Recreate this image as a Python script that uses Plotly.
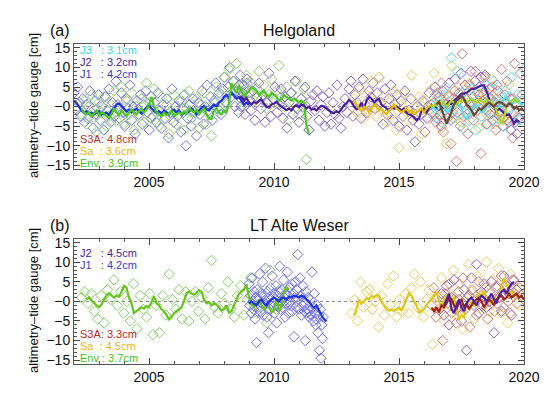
import plotly.graph_objects as go

# ---------------- data: Helgoland (panel a) ----------------
# scatter samples: start year, step, values
a_j1_t0, a_j1_dt = 2002.0, 0.07
a_j1_pts = [3.5, -0.5, 5.0, 1.0, -2.5, 2.0, -4.0, 0.5, -3.0, 4.0,
            -1.5, -5.5, 1.5, -2.0, 3.0, -3.5, 0.0, -6.0, 2.5, -1.0,
            4.5, -4.0, 1.0, -2.5, 6.5, 0.5, -3.0, 3.5, -1.5, -5.0,
            2.0, -0.5, 5.5, -3.5, 0.0, -7.0, 1.5, -2.0, 3.0, -4.5,
            0.5, 4.0, -1.5, -6.0, 2.5, -2.5, 1.0, -4.0, 3.5, -1.0,
            -5.5, 0.5, -3.0, 2.0, -8.0, -1.5, 4.5, -4.0, 0.0, -2.5,
            1.5, -6.5, -0.5, 3.0, -10.0, -3.0, 0.5, -5.0, 2.0, -1.5,
            -7.5, 1.0, -2.0, 4.0, -4.5, 0.0, 5.5, -1.0, 2.5, -3.5,
            1.5, 6.0, -0.5, 3.5, -2.0, 4.5, 7.5, 1.0, 5.0, 10.0,
            2.5, 6.5, 0.0, 4.0, -1.5, 8.0, 3.0, 5.5, 1.0, 6.0]
a_env_t0, a_env_dt = 2002.3, 0.1
a_env_pts = [-2.0, 1.5, -4.5, 0.0, 3.0, -3.0, -6.5, 1.0, -1.5, 2.5,
             -5.0, -2.5, 0.5, 4.0, -3.5, -1.0, 5.0, -4.5, 1.5, -2.0,
             3.5, -6.0, 0.0, -2.5, 2.0, -4.0, 6.0, 1.0, -3.0, 4.5,
             -1.5, -5.0, 2.5, -3.5, 0.5, -7.0, -1.0, 3.0, -4.5, -2.0,
             1.5, -6.0, -0.5, 4.0, -3.0, -1.5, 2.0, -5.5, 0.5, 3.5,
             -4.5, -2.0, -7.5, 1.0, 5.0, -1.0, 3.0, 7.5, 0.5, 9.5,
             4.0, 6.5, 11.0, 2.5, 5.5, 0.0, 8.0, 3.5, 6.0, 1.5,
             4.5, 9.0, 2.0, 5.5, -0.5, 3.0, 7.0, 1.0, 4.0, 10.5,
             2.5, 0.0, 5.0, -3.5, 3.5, 1.0, 6.5, -2.0, 2.0, 4.5,
             -13.5, -6.0]
a_j2_t0, a_j2_dt = 2008.6, 0.08
a_j2_pts = [5.5, 0.0, 3.5, -2.0, 7.0, 1.5, -1.0, 4.0, -3.5, 2.5,
            6.0, -0.5, 3.0, -4.0, 1.0, 8.5, -2.5, 2.0, 5.0, -1.5,
            0.5, 4.5, -3.0, 2.5, -5.5, 1.0, 3.5, -2.0, 6.5, -0.5,
            -4.0, 2.0, 0.0, 5.0, -2.5, -6.0, 1.5, 3.0, -1.0, 4.0,
            -3.5, 0.5, 2.5, -5.0, -1.5, 3.5, -4.5, 1.0, -2.0, 5.5,
            -3.0, -5.5, 0.0, 2.0, -1.5, 4.5, 6.5, -2.5, 3.0, 1.0,
            5.0, -3.0, 7.0, 0.5, -1.5, 4.0, 2.5, 6.0, -0.5, 3.5,
            7.5, 1.0, -4.5, 4.5, -2.0, 2.0, 5.5, -3.5, 0.5, 3.0,
            -5.0, 1.5, -2.5, 4.0, -6.0, -1.0, 2.0, -3.5, -9.0, 0.0,
            -4.5, -2.0, 1.5, -6.5, -3.0, 3.5, 0.5, -1.5, 5.0, -3.0,
            2.5, -5.0, 4.0, -1.0, 0.5, 6.0, -3.5, 2.0, 7.0, -1.5,
            3.5, 8.5, 1.0, 5.5, -2.0, 4.0, 9.0, 2.5, 6.5, 0.0,
            5.0, 7.5, 3.0, 8.0, -1.0, 4.5, 2.0, -3.5, 1.0, 5.5,
            -2.0, 0.5, -5.0, 3.0, -3.5, -1.0, -6.0, 2.0, -4.0, -7.0,
            -3.0]
a_sa_t0, a_sa_dt = 2013.2, 0.1
a_sa_pts = [2.0, -1.5, 4.5, 0.0, -3.0, 3.0, -1.0, 6.5, 1.5, -2.5,
            7.5, -0.5, 2.5, -4.0, 1.0, -2.0, 4.0, -6.0, -10.5, 0.5,
            3.5, -1.5, -3.5, 8.0, 0.0, -2.0, 2.5, -7.0, -1.0, 1.5,
            -3.0, 4.5, 8.5, -1.5, 2.0, -5.5, 0.5, -9.5, 3.0, 10.5,
            -2.5, 1.0, 5.0, -4.0, 2.5, -1.0, 6.0, -3.0, 0.5, 3.5,
            -5.5, 1.5, 4.0, -2.0, 0.0, 7.0, -4.5, 2.0, -1.5, 3.0,
            -3.5, 1.0, 5.5, -2.0, 0.5]
a_s3a_t0, a_s3a_dt = 2016.4, 0.075
a_s3a_pts = [1.0, -4.0, 3.5, -2.0, 6.0, -6.5, 0.5, -3.0, 2.5, -9.5,
             -1.5, 4.0, -14.0, 1.5, -5.0, 13.5, -2.5, 2.0, -7.0, 5.5,
             0.0, -3.5, 9.0, -1.0, 3.0, -12.0, 1.5, 7.5, -4.5, 2.5,
             -2.0, 5.0, 0.5, -6.0, 4.0, -1.5, 9.5, -3.0, 1.0, 6.5,
             -4.0, 2.0, -8.0, 11.0, 0.5, -2.5, 8.5, 3.0]
a_j3_t0, a_j3_dt = 2016.3, 0.08
a_j3_pts = [0.5, -2.5, 3.0, -1.0, 1.5, -4.0, 2.5, 5.0, -1.5, 0.0,
            12.5, -3.0, 1.0, 9.0, -2.0, 3.5, -5.5, 0.5, 2.0, -3.5,
            4.5, -1.0, -6.0, 1.5, 3.0, -2.5, 0.0, 5.5, -4.5, 2.0,
            -1.5, 6.5, 0.5, -3.0, 3.5, 1.0, -5.0, 4.0, -0.5, 2.5,
            7.5, -2.0, 0.5, 3.0, -3.5, 1.5, 9.5]

# running means (step 0.1 yr)
a_j1_line_t0 = 2002.0
a_j1_line = [1.5, 1.0, 0.0, -1.0, -1.5, -1.2, -1.8, -1.5, -2.0, -1.6,
             -1.2, -2.0, -1.8, -1.5, -2.2, -1.0, -0.5, 0.5, 0.8, 0.2,
             -0.5, -1.2, -0.8, -1.5, -1.0, -0.5, -1.2, -1.8, -1.0, -0.2,
             0.5, -0.5, -1.0, -1.6, -1.2, -1.8, -1.0, -1.5, -2.0, -1.2,
             -0.8, -1.5, -1.0, -2.2, -1.5, -1.8, -1.0, -0.5, -1.2, -2.0,
             -1.0, -0.5, 0.2, -0.6, -1.0, -0.2, 0.5, 0.0, 1.0, 1.5,
             2.5, 3.0, 2.2, 3.5, 2.8, 2.0, 2.5, 1.5, 0.5, 1.0, 0.5]
a_env_line_t0 = 2002.3
a_env_line = [-0.5, -1.5, -2.0, -1.5, -2.5, -1.8, -1.0, -2.2, -1.5, -1.8,
              -2.5, -3.0, -2.0, -0.5, -1.5, -2.2, -1.0, -1.8, -2.5, -1.5,
              -0.8, -1.5, -2.0, -1.2, -0.5, -1.5, -0.8, 0.5, 2.5, 0.0,
              -1.5, -2.0, -2.5, -1.5, -2.2, -1.8, -1.0, -2.5, -2.0, -1.5,
              -2.0, -1.2, -1.8, -0.5, -1.0, -1.5, -0.8, -2.0, -1.2, -0.5,
              -2.0, -3.0, -3.2, -1.0, -0.5, -1.5, -2.0, -1.0, -1.5, 1.0,
              6.0, 4.5, 3.5, 5.5, 4.0, 2.5, 3.5, 4.0, 5.0, 4.5,
              4.0, 3.0, 3.5, 4.0, 3.0, 2.5, 3.5, 3.0, 2.5, 1.5,
              2.0, 3.0, 2.5, 2.0, 1.5, 2.0, 1.5, 1.0, 1.5, 1.0,
              -5.0, -7.0]
a_j2_line_t0 = 2008.6
a_j2_line = [2.0, 2.5, 1.5, 2.2, 1.0, 0.5, 1.2, 0.8, 1.5, 1.7,
             0.8, 0.0, -0.3, 0.5, 0.8, 1.2, 0.5, 0.0, -0.5, -0.9,
             -0.5, -1.0, 0.0, 0.3, -0.2, 0.5, 0.3, -0.5, 0.0, -0.8,
             -0.5, -1.0, -0.3, 0.2, 0.0, -0.5, -1.0, -1.5, -1.7, -1.2,
             -1.5, -0.5, 0.3, 0.8, 1.7, 1.2, 0.0, -0.7, -0.3, 1.0,
             -0.5, 1.5, 2.5, 2.0, 1.0, 1.7, 2.0, 0.5, 0.0, -0.5,
             -0.9, -0.3, -0.5, 0.0, -0.5, -1.0, -0.5, -1.5, -2.0, -2.2,
             -2.8, -3.5, -3.0, -1.2, -0.5, -1.5, -0.5, 0.5, 0.0, -0.4,
             -0.8, 0.0, -0.4, 0.5, 1.2, 0.5, 1.5, 2.0, 2.8, 3.3,
             3.3, 3.5, 4.0, 4.5, 4.5, 4.8, 5.0, 5.4, 5.4, 4.0,
             2.0, 0.5, 0.0, -1.2, -0.5, -1.0, -1.5, -2.2, -2.0, -3.0,
             -4.4, -3.5, -4.0]
a_sa_line_t0 = 2013.2
a_sa_line = [1.5, 0.5, -0.5, -1.0, 0.0, -0.5, -1.5, -0.5, 0.5, 0.0,
             -1.0, -0.5, -1.5, -2.0, -1.0, -0.5, 0.5, -0.5, -1.0, -1.5,
             -1.0, -0.5, -1.5, -1.0, -2.0, -1.5, -1.0, -0.5, -1.5, -0.5,
             0.0, 0.5]
a_sa2_line_t0 = 2016.3
a_sa2_line = [0.5, 0.0, 1.0, 1.5, 0.5, 1.0, 0.0, 0.8, 1.5, 1.0,
              0.5, 1.5, 1.2, 2.0, 1.0, 1.5, 2.0, 1.5, 1.0, 1.8,
              1.5, 1.0, 2.0, 1.5, 1.0, 0.5, -1.0, -3.0, -4.4, -3.0,
              0.0, 1.0, 1.5, 2.0, 1.2, 1.8]
a_j3_line_t0 = 2016.3
a_j3_line = [0.0, -0.5, -1.0, -0.5, 0.5, 0.0, -1.5, -1.0, 0.0, 0.5,
             1.0, 0.5, -0.5, -2.5, -3.0, -2.0, -1.0, 0.0, 0.5, -0.5,
             -1.5, -1.0, 0.0, 1.0, 1.5, 0.5, -0.5, 0.0, 1.0, 2.0,
             2.5, 1.5, 0.5, 1.0, 2.0, 1.5, 0.5, 1.0]
a_s3a_line_t0 = 2016.5
a_s3a_line = [0.5, 1.2, -0.5, -2.5, -4.4, -3.0, -1.0, 0.5, 1.5, 2.0,
              2.8, 2.0, 0.5, 0.0, -1.0, -2.2, -1.5, -0.5, -0.8, 0.0,
              0.5, 1.0, 0.5, 0.0, 0.8, 1.2, 1.0, 0.5, 0.0, 0.8,
              0.5, -0.5, 0.0, -1.0, -0.5, -1.2]

# ---------------- data: LT Alte Weser (panel b) ----------------
b_env_t0, b_env_dt = 2002.3, 0.13
b_env_pts = [1.0, 2.5, -0.5, 2.0, -2.5, -4.5, 1.5, -5.5, 3.0, 0.5,
             5.5, -1.0, 2.5, -3.0, 0.0, -5.0, 4.5, -7.0, 1.5, -2.0,
             -4.0, 2.0, -8.5, -1.0, -8.0, 1.5, -3.5, 7.0, 0.5, -2.0,
             3.0, -4.5, 2.5, -5.0, 0.0, 2.5, -2.5, 1.0, -4.5, 3.5,
             10.5, -1.5, -3.0, 2.0, -0.5, 5.0, -2.0, -4.0, 1.5, 4.0,
             -3.5, 0.5, 6.0, -1.0, -3.0, 2.5, 0.0, -5.5, 8.0, 1.0,
             -2.0, 3.0, -0.5, 1.5]
b_j1_t0, b_j1_dt = 2009.0, 0.03
b_j1_pts = [4.5, -1.0, 1.5, -3.0, 6.0, 0.0, -2.0, 2.5, -4.5, 1.0,
            -10.5, 3.0, -1.5, 0.5, 7.0, -2.5, 2.0, -0.5, 5.0, -3.5,
            1.5, -1.0, 8.5, 0.0, -4.0, 2.5, -8.0, 1.0, -2.0, 3.5,
            -0.5, 6.5, -1.5, 2.0, -3.0, 0.5, 4.0, -5.5, 1.5, -1.0,
            2.5, 9.0, -2.0, 0.0, 3.0, -1.5, 5.5, 1.0, -4.0, 2.0,
            -0.5, 7.5, 1.5, -3.0, 3.5, 0.0, -1.0, 4.5, -2.5, 2.0,
            -9.0, 1.0, 5.0, -1.5, 3.0, 12.0, 0.5, -2.0, 6.0, 1.5,
            -3.5, -1.0, 4.0, 0.0, -2.5, -10.0, 2.5, -3.0, -2.0, 1.0,
            -4.0, -2.5, 0.5, -3.5, 7.5, -1.5, -5.0, 2.0, -3.0, -6.0,
            -4.5, -1.0, -8.0, -3.5, -12.5, -2.0, -14.5, -6.0, -9.5, -4.0]
b_sa_t0, b_sa_dt = 2013.1, 0.12
b_sa_pts = [-3.0, 0.5, -5.0, 5.0, -1.5, 2.5, 3.0, -2.0, 0.0, -6.5,
            1.5, -3.5, 4.5, -1.0, 6.5, -4.0, 0.5, -2.5, 2.0, -3.0,
            3.5, 7.0, -1.5, 5.0, -4.0, 0.5, 3.0, -11.0, 1.0, -2.0,
            6.0, -5.0, 2.0, -1.0, 8.0, -3.5, 4.5, -7.0, 0.0, 9.5,
            2.5, -4.5, 6.5, -1.5, 3.0, 10.0, -2.5, 5.5, 0.5, 8.5,
            -3.0, 4.0, -5.5, 7.0, 1.5, 3.5, -1.0]
b_s3a_t0, b_s3a_dt = 2016.3, 0.09
b_s3a_pts = [-1.0, 3.5, -4.0, 1.0, -2.5, -10.0, 2.0, -0.5, 4.5, -3.0,
             0.5, -5.5, 2.5, -1.5, 6.0, -2.0, 1.0, -6.5, 3.0, 0.0,
             -3.5, 5.0, 1.5, -1.0, 3.5, -4.5, 2.0, 0.5, -2.5, 4.0,
             1.0, 6.5, -1.5, 3.0, 0.0, -3.0, 5.5, 2.0, -0.5, 3.5,
             1.5, 0.5]
b_j2_t0, b_j2_dt = 2016.7, 0.1
b_j2_pts = [2.0, -3.5, 4.0, -6.0, 1.0, 5.5, -2.0, 0.5, -5.0, 3.0,
            -12.5, 1.5, 6.0, -1.0, 9.5, -3.0, 2.5, 4.5, -1.5, 0.0,
            5.0, -8.0, 3.5, 1.0, -2.5, 6.5, 4.0, 2.0, -3.5, 5.5,
            3.0]

b_env_line_t0 = 2002.5
b_env_line = [0.5, 1.0, 0.3, -0.5, -1.0, -1.5, -0.8, 0.5, 1.5, 2.1,
              1.5, 1.0, 1.5, 1.2, 2.5, 4.0, 3.5, 1.0, -0.5, -3.0,
              -2.5, -2.0, -1.5, -1.8, -1.2, -1.5, 0.0, 1.3, -0.5, -1.0,
              -2.0, -2.5, -3.5, -4.6, -4.0, -3.0, -2.5, -2.0, -1.5, 0.0,
              2.1, 2.5, 2.0, 1.8, 2.2, 2.9, 2.5, 0.5, -0.5, -0.2,
              -1.0, -0.5, -0.8, -1.5, -2.4, -2.0, -1.0, -2.8, -2.5, -1.0,
              0.5, 2.0, 2.5, 3.0, 4.4, 1.0, -0.5, -1.5, -0.5, 0.5,
              -1.0, -2.0, -1.0, -1.5, -2.8, -2.0, 0.5, -2.5, -1.0, 2.5,
              3.6, 3.0]
b_j1_line_t0 = 2009.0
b_j1_line = [-0.5, 0.0, -0.5, -1.0, 0.0, 0.5, -0.5, -1.0, 0.0, 0.5,
             1.0, 0.5, 0.0, 0.8, 1.0, 0.5, 1.2, 1.0, 1.5, 1.3,
             1.0, 1.5, 1.2, 0.5, 0.0, -1.0, -1.6, -1.0, -2.5, -3.6,
             -4.5, -5.1]
b_sa_line_t0 = 2013.2
b_sa_line = [-3.6, -2.0, 0.5, -0.5, 0.0, 0.9, 0.5, 1.5, 1.0, 1.7,
             1.5, 0.0, -1.0, -2.0, -2.4, -2.0, -2.5, -2.0, -1.5, -2.4,
             -1.0, 0.5, 2.1, 1.5, 0.0, -1.0, -2.8, -2.5, -2.0, -1.0,
             0.0, 0.5, 1.5, 2.5, 0.0, -1.5, 0.5, 1.5, 2.0, 0.5,
             1.0, -2.0, -4.6, -3.5, -4.0, -1.0, 0.5, -0.5, -1.0, 0.5,
             2.0, 1.5, 2.5, 0.5, 0.0, -0.5, 1.0, 0.5, 1.5, 3.5,
             6.0, 4.5, 2.0, 2.5, 1.5, 2.0, 1.0]
b_s3a_line_t0 = 2016.3
b_s3a_line = [-1.6, -2.5, -1.5, -2.8, -1.0, -1.5, -0.5, 1.0, 0.5, -1.0,
              -2.0, 0.0, 0.5, -1.5, -0.5, -2.0, -1.0, 0.0, 0.5, 1.0,
              0.0, -1.5, -0.5, 0.5, 0.0, -1.0, 0.5, 1.0, 1.5, 0.5,
              1.0, 2.0, 1.0, 1.5, 2.0, 1.0, 1.5, 0.5]
b_j2_line_t0 = 2016.8
b_j2_line = [-1.0, 0.5, 2.0, -2.0, -3.0, -1.0, 0.5, -1.5, -2.5, -0.5,
             0.5, 1.0, 0.0, -1.0, 0.5, 1.5, 1.0, 0.0, 1.0, 2.0,
             0.5, -0.5, 1.5, 2.5, 3.0, 2.0, 3.5, 4.5, 5.0]

y_tickvals = [-15, -10, -5, 0, 5, 10, 15]
y_ticktext = ["−15", "−10", "−5", "−0", "5", "10", "15"]
x_tickvals = [2005, 2010, 2015, 2020]

NB = "\u00a0"
a_labels_top = [("J3" + NB * 3 + ": 3.1cm", "#3fd6e6"), ("J2" + NB * 3 + ": 3.2cm", "#50209c"),
                ("J1" + NB * 3 + ": 4.2cm", "#3a3ad0")]
a_labels_bot = [("S3A: 4.8cm", "#b0381e"), ("Sa" + NB * 2 + ": 3.6cm", "#e8b800"),
                ("Env" + NB + ": 3.9cm", "#44c21c")]
b_labels_top = [("J2" + NB * 3 + ": 4.5cm", "#50209c"), ("J1" + NB * 3 + ": 4.2cm", "#3a3ad0")]
b_labels_bot = [("S3A: 3.3cm", "#c02818"), ("Sa" + NB * 2 + ": 4.5cm", "#e8b800"),
                ("Env" + NB + ": 3.7cm", "#44c21c")]

# ---------------- figure ----------------
MK = {"J1": "#7272ea", "J2": "#8c64c8", "Env": "#86d068", "Sa": "#f0ca58",
      "S3A": "#dc7868", "J3": "#66dcea"}

fig = go.Figure()


def times(t0, dt, n):
    return [round(t0 + i * dt, 4) for i in range(n)]


def pts(t0, dt, vals, col, ax):
    fig.add_trace(go.Scatter(
        x=times(t0, dt, len(vals)), y=vals, mode="markers",
        marker=dict(symbol="diamond-open", size=8, color=col, line=dict(width=1, color=col)),
        xaxis="x" + ax, yaxis="y" + ax, showlegend=False, hoverinfo="skip"))


def line(t0, vals, col, ax, w=2.2):
    fig.add_trace(go.Scatter(
        x=times(t0, 0.1, len(vals)), y=vals, mode="lines",
        line=dict(color=col, width=w), xaxis="x" + ax, yaxis="y" + ax,
        showlegend=False, hoverinfo="skip"))


# panel a points
pts(a_j1_t0, a_j1_dt, a_j1_pts, MK["J1"], "")
pts(a_env_t0, a_env_dt, a_env_pts, MK["Env"], "")
pts(a_j2_t0, a_j2_dt, a_j2_pts, MK["J2"], "")
pts(a_sa_t0, a_sa_dt, a_sa_pts, MK["Sa"], "")
pts(a_j3_t0, a_j3_dt, a_j3_pts, MK["J3"], "")
pts(a_s3a_t0, a_s3a_dt, a_s3a_pts, MK["S3A"], "")
# panel a lines
line(a_j1_line_t0, a_j1_line, "#1c34e4", "")
line(a_env_line_t0, a_env_line, "#4cc81c", "")
line(a_j2_line_t0, a_j2_line, "#4a1ea0", "")
line(a_sa_line_t0, a_sa_line, "#e6b80a", "")
line(a_j3_line_t0, a_j3_line, "#5cdcec", "")
line(a_sa2_line_t0, a_sa2_line, "#a8d42a", "")
line(a_s3a_line_t0, a_s3a_line, "#6a4a34", "")

# panel b points
pts(b_env_t0, b_env_dt, b_env_pts, MK["Env"], "2")
pts(b_j1_t0, b_j1_dt, b_j1_pts, MK["J1"], "2")
pts(b_sa_t0, b_sa_dt, b_sa_pts, MK["Sa"], "2")
pts(b_j2_t0, b_j2_dt, b_j2_pts, MK["J2"], "2")
pts(b_s3a_t0, b_s3a_dt, b_s3a_pts, MK["S3A"], "2")
# panel b lines
line(b_env_line_t0, b_env_line, "#66c41c", "2")
line(b_j1_line_t0, b_j1_line, "#1c34e4", "2")
line(b_sa_line_t0, b_sa_line, "#dcc818", "2")
line(b_s3a_line_t0, b_s3a_line, "#a02410", "2")
line(b_j2_line_t0, b_j2_line, "#5020a8", "2")

FONT = "Liberation Sans, Arial, sans-serif"

xcommon = dict(range=[2002, 2020], tickvals=x_tickvals, ticks="inside", ticklen=6,
               tickcolor="#444", showline=True, linecolor="#555", linewidth=1,
               mirror="allticks", showgrid=False, zeroline=False,
               minor=dict(dtick=1, ticks="inside", ticklen=3, tickcolor="#555", showgrid=False),
               tickfont=dict(family=FONT, size=14, color="#111"))
ycommon = dict(range=[-16, 16], tickvals=y_tickvals, ticktext=y_ticktext, ticks="inside",
               ticklen=6, tickcolor="#444", showline=True, linecolor="#555", linewidth=1,
               mirror="allticks", showgrid=False, zeroline=False,
               minor=dict(dtick=1, ticks="inside", ticklen=3, tickcolor="#555", showgrid=False),
               tickfont=dict(family=FONT, size=14, color="#111"))

fig.update_layout(
    width=550, height=394,
    margin=dict(l=66, r=34, t=36, b=38),
    paper_bgcolor="white", plot_bgcolor="white",
    font=dict(family=FONT, color="#111"),
    xaxis=dict(domain=[0, 1], anchor="y", **xcommon),
    yaxis=dict(domain=[0.609, 1.0], anchor="x", **ycommon),
    xaxis2=dict(domain=[0, 1], anchor="y2", **xcommon),
    yaxis2=dict(domain=[0.0, 0.391], anchor="x2", **ycommon),
)

# dotted zero lines
for ax in ["", "2"]:
    fig.add_shape(type="line", xref="x" + ax + " domain", yref="y" + ax,
                  x0=0, x1=1, y0=0, y1=0, layer="below",
                  line=dict(color="#888", width=1, dash="dot"))

ann = []
H_PLOT_TOP, H_PLOT = 36, 320


def py(pixel_y):
    return (H_PLOT_TOP + H_PLOT - pixel_y) / H_PLOT


def txt(x, y, s, col, size=11, anchor="left"):
    ann.append(dict(x=x, y=y, xref="paper", yref="paper", text=s, showarrow=False,
                    xanchor=anchor, yanchor="middle", borderpad=0,
                    font=dict(family=FONT, size=size, color=col)))


for (s, c), y in zip(a_labels_top, [42, 54, 66]):
    txt(0.012, py(y), s, c)
for (s, c), y in zip(a_labels_bot, [131, 143, 155]):
    txt(0.012, py(y), s, c)
for (s, c), y in zip(b_labels_top, [245, 257]):
    txt(0.012, py(y), s, c)
for (s, c), y in zip(b_labels_bot, [326, 338, 350]):
    txt(0.012, py(y), s, c)

txt(0.5, py(22), "Helgoland", "#111", size=16, anchor="center")
txt(0.5, py(217), "LT Alte Weser", "#111", size=16, anchor="center")
txt(-0.031, py(22), "(a)", "#111", size=16, anchor="center")
txt(-0.031, py(217), "(b)", "#111", size=16, anchor="center")

for y in [98, 293]:
    ann.append(dict(x=-0.091, y=py(y), xref="paper", yref="paper",
                    text="altimetry–tide gauge [cm]", showarrow=False, textangle=-90,
                    xanchor="center", yanchor="middle",
                    font=dict(family=FONT, size=13, color="#111")))

fig.update_layout(annotations=ann)
fig.write_html("out.html")
